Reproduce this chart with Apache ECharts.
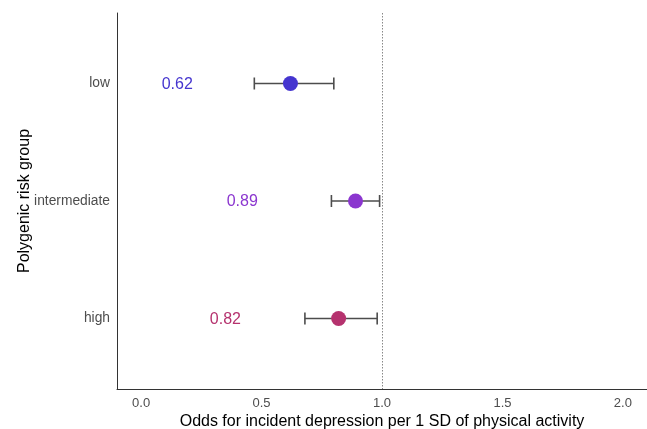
<!DOCTYPE html>
<html><head><meta charset="utf-8">
<script src="https://cdn.jsdelivr.net/npm/echarts@6/dist/echarts.min.js"></script>
<style>html,body{margin:0;padding:0;background:#fff}#c{width:647px;height:429px}</style>
</head><body><div id="c"></div>
<script>
const groups = ['low', 'intermediate', 'high'];
const estimates = [0.62, 0.89, 0.82];
const lowerCI = [0.47, 0.79, 0.68];
const upperCI = [0.80, 0.99, 0.98];
const xTicks = [0.0, 0.5, 1.0, 1.5, 2.0];
const colors = ['#4535CF', '#8B36CF', '#B5326E'];
const labelShift = 0.47;

const chart = echarts.init(document.getElementById('c'), null, {renderer: 'canvas'});
const font = 'Liberation Sans, Arial, Helvetica, sans-serif';
const yPos = groups.map((g, i) => i + 1);

const series = [];
groups.forEach((g, i) => {
  series.push({
    type: 'custom',
    renderItem: function (params, api) {
      const y = yPos[i];
      const p1 = api.coord([lowerCI[i], y]);
      const p2 = api.coord([upperCI[i], y]);
      const h = 6;
      const st = {stroke: '#4d4d4d', lineWidth: 1.6};
      return {type: 'group', children: [
        {type: 'line', shape: {x1: p1[0], y1: p1[1], x2: p2[0], y2: p2[1]}, style: st},
        {type: 'line', shape: {x1: p1[0], y1: p1[1] - h, x2: p1[0], y2: p1[1] + h}, style: st},
        {type: 'line', shape: {x1: p2[0], y1: p2[1] - h, x2: p2[0], y2: p2[1] + h}, style: st}
      ]};
    },
    data: [[lowerCI[i], yPos[i], upperCI[i]]],
    z: 2, silent: true
  });
  series.push({
    type: 'scatter',
    data: [[estimates[i], yPos[i]]],
    symbolSize: 15,
    itemStyle: {color: colors[i], opacity: 1},
    z: 3, silent: true
  });
  series.push({
    type: 'scatter',
    data: [[estimates[i] - labelShift, yPos[i]]],
    symbolSize: 2,
    itemStyle: {color: 'rgba(0,0,0,0)', opacity: 1},
    label: {show: true, position: 'inside', formatter: estimates[i].toFixed(2),
      color: colors[i], fontSize: 16, fontFamily: font, offset: [0, 1]},
    z: 3, silent: true
  });
});
series.push({
  type: 'line', data: [], markLine: {
    silent: true, symbol: 'none', label: {show: false},
    lineStyle: {color: '#888', type: [1.5, 1.5], width: 1},
    data: [{xAxis: 1.0}]
  }
});

chart.setOption({
  animation: false,
  backgroundColor: '#fff',
  grid: {left: 117, right: 0, top: 13, bottom: 40, containLabel: false, outerBoundsMode: 'none'},
  xAxis: {
    type: 'value', min: -0.1, max: 2.1,
    name: 'Odds for incident depression per 1 SD of physical activity',
    nameLocation: 'middle', nameGap: 25, nameMoveOverlap: false,
    nameTextStyle: {fontSize: 16, color: '#000', fontFamily: font},
    axisLine: {show: true, onZero: false, lineStyle: {color: '#333', width: 1}},
    axisTick: {show: false},
    splitLine: {show: false},
    axisLabel: {customValues: xTicks, formatter: v => v.toFixed(1), color: '#4d4d4d', fontSize: 13, fontFamily: font, margin: 8}
  },
  yAxis: {
    type: 'value', min: 0.4, max: 3.6, inverse: true,
    name: 'Polygenic risk group',
    nameLocation: 'middle', nameGap: 84, nameRotate: 90, nameMoveOverlap: false,
    nameTextStyle: {fontSize: 16, color: '#000', fontFamily: font},
    axisLine: {show: true, onZero: false, lineStyle: {color: '#333', width: 1}},
    axisTick: {show: false},
    splitLine: {show: false},
    axisLabel: {customValues: yPos, formatter: v => groups[Math.round(v) - 1] || '', color: '#4d4d4d', fontSize: 13.8, fontFamily: font, margin: 7}
  },
  series: series
});
</script></body></html>
